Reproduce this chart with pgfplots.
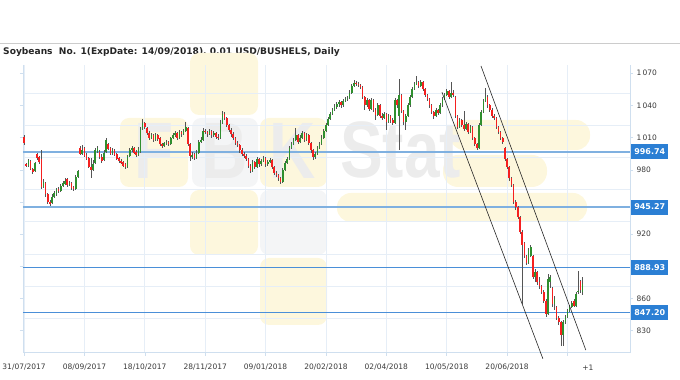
\documentclass[border=0pt]{standalone}
\usepackage{fontspec}
\setmainfont{DejaVu Sans}
\newfontfamily\wmfont{Liberation Sans}
\usepackage{pgfplots}
\usepackage{pgfplotstable}
\pgfplotsset{compat=1.18}
\definecolor{gridc}{HTML}{E6EEF7}
\definecolor{axisc}{HTML}{CFDFEF}
\definecolor{labc}{HTML}{3A3A3A}
\definecolor{upc}{HTML}{2F8F2F}
\definecolor{downc}{HTML}{F52020}
\definecolor{wickc}{HTML}{555555}
\definecolor{lvlA}{HTML}{7FB0E0}
\definecolor{lvlB}{HTML}{4A8FD8}
\definecolor{boxc}{HTML}{2B7FD4}
\definecolor{wmy}{HTML}{FDF7DD}
\definecolor{wmg}{HTML}{F4F5F6}
\definecolor{wmt}{HTML}{ECECEC}

\pgfplotstableread{
i o h l c
0 1011 1012 1003 1005
1 985 986 983 984
2 984 990 983 989
3 988 989 980 981
4 981 982 976 978
5 979 987 978 986
6 995 996 989 991
7 992 993 985 987
8 990 998 962 964
9 964 971 963 969
10 968 969 955 957
11 957 958 948 950
12 950 952 946 948
13 949 957 948 955
14 955 960 954 958
15 957 963 956 962
16 962 964 958 960
17 960 967 959 965
18 965 970 964 968
19 967 972 966 970
20 971 972 964 966
21 966 970 965 968
22 968 969 961 963
23 964 965 960 962
24 962 975 961 973
25 973 980 972 979
26 1000 1002 994 995
27 995 1003 994 998
28 1000 1001 992 993
29 994 996 989 990
30 991 992 982 983
31 983 991 972 980
32 980 989 979 985
33 986 1000 985 998
34 997 1002 996 1000
35 997 998 990 992
36 992 995 986 988
37 989 998 988 996
38 997 1010 996 1008
39 1004 1005 998 999
40 1000 1001 994 995
41 995 1000 994 998
42 998 999 993 994
43 995 996 989 990
44 991 992 986 988
45 988 990 985 986
46 987 988 983 984
47 985 986 981 983
48 983 994 982 993
49 993 1000 992 998
50 998 1002 997 1000
51 1000 1001 995 996
52 997 998 992 994
53 994 1001 993 999
54 997 1020 996 1018
55 1018 1027 1017 1024
56 1024 1025 1018 1020
57 1019 1020 1012 1014
58 1014 1016 1008 1010
59 1010 1014 1009 1012
60 1012 1013 1006 1008
61 1008 1014 1007 1012
62 1012 1013 1007 1009
63 1010 1011 1002 1004
64 1004 1005 1000 1002
65 1002 1006 1001 1005
66 1005 1008 1003 1006
67 1006 1007 1002 1004
68 1004 1011 1003 1010
69 1010 1014 1009 1012
70 1012 1016 1011 1014
71 1014 1015 1008 1010
72 1010 1017 1009 1015
73 1015 1016 1011 1013
74 1013 1018 1012 1016
75 1016 1025 1015 1020
76 1019 1020 1002 1004
77 1004 1005 988 993
78 992 997 990 994
79 995 996 989 991
80 991 998 990 996
81 996 1008 995 1006
82 1006 1011 1005 1008
83 1008 1019 1007 1016
84 1016 1018 1013 1015
85 1015 1016 1011 1013
86 1013 1018 1012 1016
87 1016 1017 1010 1012
88 1012 1016 1011 1014
89 1014 1015 1009 1011
90 1011 1013 1008 1010
91 1010 1026 1009 1024
92 1024 1035 1023 1032
93 1032 1034 1026 1028
94 1028 1029 1020 1022
95 1022 1023 1015 1017
96 1017 1019 1011 1013
97 1013 1015 1008 1010
98 1010 1011 1003 1005
99 1005 1007 1001 1003
100 1003 1004 996 998
101 998 1000 993 995
102 995 997 991 993
103 993 995 988 990
104 990 991 982 984
105 984 985 977 979
106 979 989 978 987
107 987 988 981 983
108 983 992 982 990
109 990 991 983 985
110 985 990 984 988
111 988 993 987 991
112 991 992 983 985
113 985 989 984 987
114 987 991 986 989
115 989 990 981 983
116 983 984 975 977
117 977 979 973 975
118 975 976 970 972
119 972 973 967 969
120 969 982 968 980
121 980 988 979 986
122 986 992 985 990
123 990 1002 989 1000
124 1000 1006 999 1004
125 1004 1010 1003 1008
126 1008 1019 1007 1012
127 1012 1013 1004 1006
128 1006 1012 1005 1010
129 1010 1016 1009 1014
130 1014 1015 1006 1008
131 1008 1014 1007 1012
132 1012 1013 1003 1005
133 1005 1006 996 998
134 998 999 989 992
135 992 997 990 995
136 995 1002 994 1000
137 1000 1006 999 1004
138 1004 1012 1003 1010
139 1010 1018 1009 1016
140 1016 1024 1015 1022
141 1022 1029 1021 1027
142 1027 1034 1026 1032
143 1032 1038 1031 1036
144 1036 1041 1035 1039
145 1039 1043 1037 1041
146 1041 1045 1039 1043
147 1043 1044 1038 1040
148 1040 1046 1039 1044
149 1044 1048 1043 1046
150 1046 1049 1044 1047
151 1047 1054 1046 1052
152 1052 1060 1051 1058
153 1058 1064 1057 1061
154 1061 1063 1058 1060
155 1060 1062 1057 1059
156 1059 1060 1055 1057
157 1057 1058 1046 1048
158 1048 1049 1036 1040
159 1040 1047 1039 1045
160 1045 1046 1035 1037
161 1037 1047 1036 1045
162 1045 1046 1034 1036
163 1036 1038 1026 1031
164 1031 1042 1030 1040
165 1040 1041 1028 1030
166 1030 1033 1026 1028
167 1028 1034 1027 1032
168 1032 1033 1017 1025
169 1025 1032 1024 1030
170 1030 1031 1024 1026
171 1026 1028 1022 1024
172 1024 1047 1023 1045
173 1045 1046 1038 1040
174 1030 1065 998 1050
175 1050 1051 1033 1035
176 1035 1036 1022 1025
177 1025 1032 1017 1030
178 1030 1042 1029 1040
179 1040 1050 1039 1048
180 1048 1057 1047 1055
181 1055 1062 1054 1060
182 1060 1067 1059 1062
183 1062 1063 1056 1058
184 1058 1064 1057 1062
185 1062 1063 1053 1055
186 1055 1056 1048 1050
187 1050 1051 1044 1046
188 1046 1047 1038 1040
189 1040 1041 1032 1034
190 1034 1035 1027 1030
191 1030 1038 1029 1036
192 1036 1037 1031 1033
193 1033 1042 1032 1040
194 1040 1048 1039 1046
195 1046 1052 1045 1050
196 1050 1055 1049 1053
197 1053 1054 1046 1048
198 1048 1062 1047 1052
199 1052 1054 1048 1050
200 1048 1049 1028 1030
201 1030 1031 1018 1020
202 1020 1028 1019 1026
203 1026 1027 1020 1022
204 1022 1035 1016 1018
205 1018 1025 1017 1023
206 1023 1024 1013 1015
207 1015 1022 1014 1020
208 1020 1021 1008 1010
209 1010 1011 1002 1004
210 1004 1005 998 1000
211 1000 1024 999 1022
212 1022 1036 1021 1034
213 1034 1046 1033 1044
214 1044 1056 1043 1048
215 1048 1050 1038 1040
216 1040 1041 1034 1036
217 1036 1038 1028 1030
218 1030 1032 1026 1028
219 1028 1029 1018 1020
220 1020 1021 1013 1015
221 1015 1016 1008 1010
222 1010 1011 1004 1006
223 1000 1001 988 990
224 990 991 981 983
225 983 984 970 972
226 972 973 964 966
227 966 967 948 950
228 950 952 943 945
229 945 946 934 936
230 936 937 920 922
231 922 924 855 910
232 912 913 898 900
233 900 901 891 893
234 893 907 892 905
235 900 910 899 908
236 900 901 878 880
237 880 888 875 885
238 885 886 873 875
239 875 880 869 872
240 872 873 864 866
241 866 868 856 858
242 858 860 843 846
243 846 883 845 878
244 875 882 870 880
245 870 871 852 855
246 855 862 849 860
247 852 853 840 842
248 842 844 835 838
249 838 839 816 826
250 826 840 816 838
251 838 845 836 843
252 843 850 842 848
253 848 854 847 852
254 852 858 851 856
255 858 860 852 853
256 853 866 852 864
257 866 886 864 867
258 876 877 865 868
259 866 880 863 874
}\candles

\begin{document}
\begin{tikzpicture}[x=1pt,y=1pt]
\useasboundingbox (0,0) rectangle (680,380);
% header line and title
\draw[draw=black!20, line width=0.8pt] (0,337) -- (680,337);
\node[anchor=west, inner sep=0pt, font=\bfseries\fontsize{9.1}{10}\selectfont, text=black!85] at (3,327.5)
  {Soybeans\ \ No. 1(ExpDate: 14/09/2018), 0.01 USD/BUSHELS, Daily};
% watermark
\fill[wmy, rounded corners=9pt] (190,265) rectangle (258,327);
\fill[wmy, rounded corners=9pt] (120,193) rectangle (188,262);
\fill[wmg, rounded corners=9pt] (192,193) rectangle (258,262);
\fill[wmy, rounded corners=9pt] (260,193) rectangle (327,262);
\fill[wmy, rounded corners=9pt] (190,125) rectangle (258,190);
\fill[wmg, rounded corners=9pt] (260,125) rectangle (327,190);
\fill[wmy, rounded corners=9pt] (260,55) rectangle (327,122);
\fill[wmy, rounded corners=14pt] (337,158) rectangle (587,187);
\fill[wmy, rounded corners=14pt] (450,230) rectangle (590,260);
\fill[wmy, rounded corners=15pt] (443,193) rectangle (547,225);
\node[text=wmt, font=\wmfont\bfseries\fontsize{80}{80}\selectfont, xscale=0.8, inner sep=0pt] at (154,229) {F};
\node[text=wmt, font=\wmfont\bfseries\fontsize{80}{80}\selectfont, xscale=0.8, inner sep=0pt] at (225,229) {B};
\node[text=wmt, font=\wmfont\bfseries\fontsize{80}{80}\selectfont, xscale=0.8, inner sep=0pt] at (293,229) {K};
\node[text=wmt, font=\wmfont\bfseries\fontsize{80}{80}\selectfont, xscale=0.8, inner sep=0pt, anchor=base west] at (340,202) {Stat};
\begin{axis}[
  at={(23pt,27.5pt)}, anchor=south west,
  scale only axis, width=607pt, height=287.5pt,
  xmin=-0.5, xmax=281, ymin=809.7, ymax=1077.7,
  clip=false,
  axis line style={draw=none},
  xtick={0,28,56,84,112,140,168,196,224,252},
  xticklabels={31/07/2017,08/09/2017,18/10/2017,28/11/2017,09/01/2018,20/02/2018,02/04/2018,10/05/2018,20/06/2018,{}},
  ytick={830,860,890,920,950,980,1010,1040,1070},
  yticklabels={830,860,{},920,{},980,1\,010,1\,040,1\,070},
  yticklabel pos=right,
  ytick pos=both,
  xtick pos=bottom,
  tick align=outside,
  major tick length=3pt,
  tick style={draw=axisc, line width=0.6pt},
  xmajorgrids,
  grid style={draw=gridc, line width=0.8pt},
  x tick label style={font=\fontsize{7.5}{8}\selectfont, text=labc, yshift=-5pt},
  y tick label style={font=\fontsize{7.5}{8}\selectfont, text=labc},
]
\pgfplotsinvokeforeach{841.5,871.5,901.5,931.5,961.5,991.5,1021.5,1051.5}{
  \draw[gridc, line width=0.8pt] (axis cs:-0.5,#1) -- (axis cs:281,#1);
}
\draw[axisc, line width=0.8pt] (axis cs:-0.5,1077.7) -- (axis cs:-0.5,809.7) -- (axis cs:281,809.7) -- (axis cs:281,1077.7);
\addplot[lvlA, line width=2pt, forget plot] coordinates {(-0.5,996.74) (281,996.74)};
\addplot[lvlA, line width=1.6pt, forget plot] coordinates {(-0.5,945.27) (281,945.27)};
\addplot[lvlB, line width=1pt, forget plot] coordinates {(-0.5,888.93) (281,888.93)};
\addplot[lvlB, line width=1pt, forget plot] coordinates {(-0.5,847.20) (281,847.20)};
\addplot[draw=none, mark=none, forget plot, error bars/.cd, y dir=both, y explicit, error mark=none,
  error bar style={draw=wickc, line width=0.7pt}]
  table[x=i, y=c, y error plus expr=\thisrow{h}-\thisrow{c}, y error minus expr=\thisrow{c}-\thisrow{l}] {\candles};
\addplot[draw=none, mark=none, forget plot, error bars/.cd, y dir=plus, y explicit, error mark=none,
  error bar style={draw=downc, line width=1.6pt}]
  table[x=i, y=c, y error plus expr={max(\thisrow{o}-\thisrow{c},0)}] {\candles};
\addplot[draw=none, mark=none, forget plot, error bars/.cd, y dir=minus, y explicit, error mark=none,
  error bar style={draw=upc, line width=1.6pt}]
  table[x=i, y=c, y error minus expr={max(\thisrow{c}-\thisrow{o},0)}] {\candles};
\addplot[black!85, line width=0.6pt, forget plot] coordinates {(211.9,1076.8) (260.5,812)};
\addplot[black!85, line width=0.6pt, forget plot] coordinates {(193.8,1052.3) (240.6,803.9)};
\node[anchor=west, fill=boxc, text=white, font=\bfseries\fontsize{8}{9}\selectfont,
    minimum height=15pt, minimum width=37pt, inner sep=1pt] at (axis cs:281.5,996.74) {996.74};
\node[anchor=west, fill=boxc, text=white, font=\bfseries\fontsize{8}{9}\selectfont,
    minimum height=15pt, minimum width=37pt, inner sep=1pt] at (axis cs:281.5,945.27) {945.27};
\node[anchor=west, fill=boxc, text=white, font=\bfseries\fontsize{8}{9}\selectfont,
    minimum height=15pt, minimum width=37pt, inner sep=1pt] at (axis cs:281.5,888.93) {888.93};
\node[anchor=west, fill=boxc, text=white, font=\bfseries\fontsize{8}{9}\selectfont,
    minimum height=15pt, minimum width=37pt, inner sep=1pt] at (axis cs:281.5,847.20) {847.20};
\node[font=\fontsize{7.5}{8}\selectfont, text=labc] at (axis cs:261.5,795.5) {+1};
\end{axis}
\end{tikzpicture}
\end{document}
